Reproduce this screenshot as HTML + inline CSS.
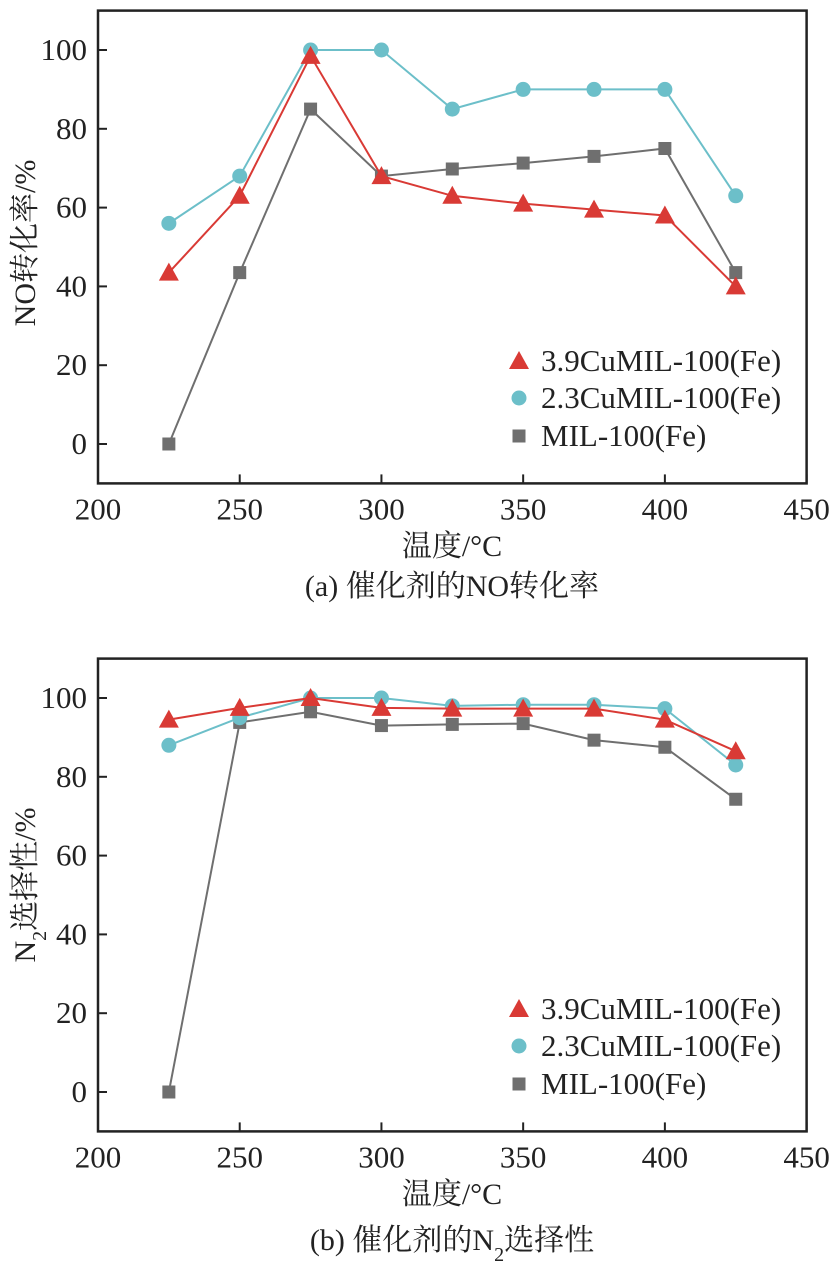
<!DOCTYPE html>
<html><head><meta charset="utf-8"><style>
body{margin:0;background:#fff}
svg text{font-family:"Liberation Serif","Noto Serif CJK SC",serif;fill:#222}
</style></head><body>
<svg id="s" width="830" height="1268" xmlns="http://www.w3.org/2000/svg"></svg>
<script>
const temps=[225,250,275,300,325,350,375,400,425];
const aRed=[43.5,63,98.5,68,63,61,59.5,58,40];
const aCyan=[56,68,100,100,85,90,90,90,63];
const aGray=[0,43.5,85,68,69.8,71.3,73,75,43.5];
const bRed=[94.5,97.5,100,97.5,97.3,97.3,97.3,94.5,86.5];
const bCyan=[88,95,100,100,98,98.3,98.3,97.3,83];
const bGray=[0,93.8,96.5,93,93.3,93.5,89.3,87.5,74.3];
const xTicks=[200,250,300,350,400,450];
const yTicks=[0,20,40,60,80,100];
const legendNames=["3.9CuMIL-100(Fe)","2.3CuMIL-100(Fe)","MIL-100(Fe)"];
const RED="#d93a35",CYAN="#6cbfc9",GRAY="#6f6f6f";
const NS="http://www.w3.org/2000/svg",svg=document.getElementById('s');
function el(t,a,p){const e=document.createElementNS(NS,t);for(const k in a)e.setAttribute(k,a[k]);(p||svg).appendChild(e);return e;}
function chart(off,series,id){
  const X=v=>98+(v-200)*(708.6/250), Y=v=>off+444-v*3.94;
  const g=el('g',{});
  
  
  const top=Y(110),bot=Y(-10);
  const fr=el('rect',{x:98,y:top,width:708.6,height:bot-top,fill:'none',stroke:'#222','stroke-width':2.5},g);
  
  
  xTicks.forEach(t=>{
    el('line',{x1:X(t),x2:X(t),y1:bot,y2:bot-9,stroke:'#222','stroke-width':2},g);
    const tx=el('text',{x:X(t),y:bot+36,'text-anchor':'middle','font-size':31},g);tx.textContent=t;
    
    
  });
  yTicks.forEach(t=>{
    el('line',{x1:98,x2:107,y1:Y(t),y2:Y(t),stroke:'#222','stroke-width':2},g);
    const tx=el('text',{x:87,y:Y(t)+10,'text-anchor':'end','font-size':31},g);tx.textContent=t;
    
    
  });
  const marker=(type,c,x,y,p)=>{
    if(type==='tri')return el('polygon',{points:`${x},${y-10} ${x-10},${y+8} ${x+10},${y+8}`,fill:c},p);
    if(type==='circ')return el('circle',{cx:x,cy:y,r:7.5,fill:c},p);
    return el('rect',{x:x-6.5,y:y-6.5,width:13,height:13,fill:c},p);
  };
  const defs=[[series[2],GRAY,'sq','mil-100-fe'],[series[1],CYAN,'circ','2-3cumil'],[series[0],RED,'tri','3-9cumil']];
  defs.forEach(([d,c,m,n])=>{
    const pl=el('polyline',{points:d.map((v,i)=>X(temps[i])+','+Y(v)).join(' '),fill:'none',stroke:c,'stroke-width':2},g);
    
    
    d.forEach((v,i)=>{const mk=marker(m,c,X(temps[i]),Y(v),g);
      
      });
  });
  const ly=[off+361,off+398,off+436],lc=[RED,CYAN,GRAY],lm=['tri','circ','sq'];
  legendNames.forEach((nm,i)=>{
    marker(lm[i],lc[i],519,ly[i],g);
    const t=el('text',{x:541,y:ly[i]+10,'font-size':31},g);t.textContent=nm;
    
    
  });
  return {X,Y,bot};
}
const a=chart(0,[aRed,aCyan,aGray],'no-conversion');
const b=chart(648,[bRed,bCyan,bGray],'n2-selectivity');
function txt(s,x,y,sz,name,rot){const t=el('text',{x,y,'font-size':sz,'text-anchor':'middle'});t.innerHTML=s;
  if(rot)t.setAttribute('transform',`rotate(-90 ${x} ${y})`);
  
  return t;}
txt('温度/°C',452,556,30,'x-axis-title');
txt('(a) 催化剂的NO转化率',452,596,30,'caption-a');
txt('NO转化率/%',35,243,30,'y-axis-title',true);
txt('温度/°C',452,1204,30,'x-axis-title');
txt('(b) 催化剂的N<tspan baseline-shift="sub" font-size="20">2</tspan>选择性',452,1250,30,'caption-b');
txt('N<tspan baseline-shift="sub" font-size="20">2</tspan>选择性/%',35,885,30,'y-axis-title',true);
</script>
</body></html>
